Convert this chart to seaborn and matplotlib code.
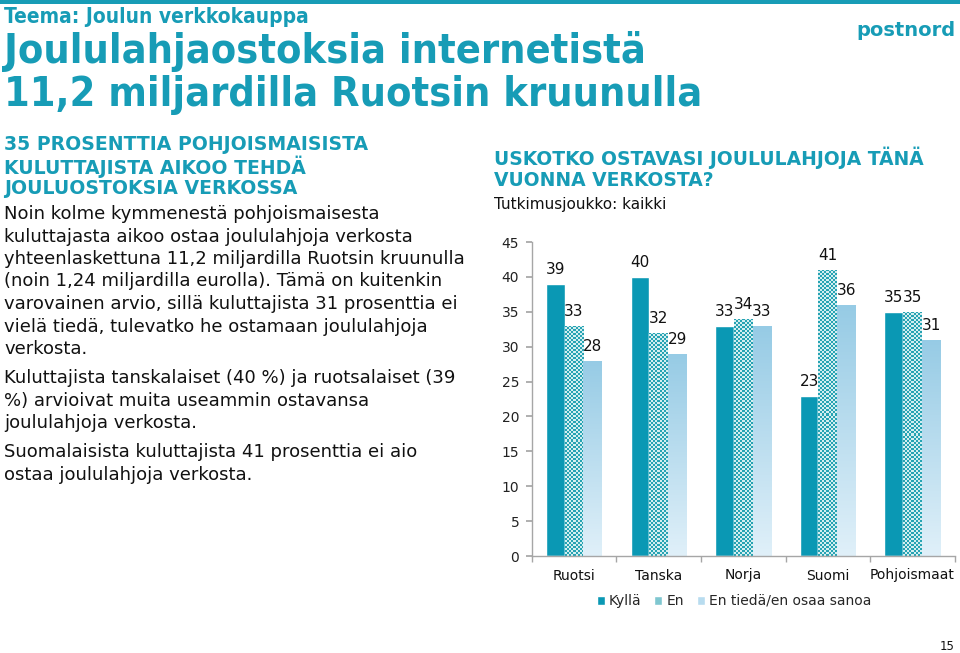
import numpy as np
import pandas as pd
import matplotlib
matplotlib.use("Agg")
import matplotlib.pyplot as plt
from matplotlib.colors import LinearSegmentedColormap, ListedColormap
from matplotlib.patches import Patch
import seaborn as sns

categories = ["Ruotsi", "Tanska", "Norja", "Suomi", "Pohjoismaat"]
series_names = ["Kyllä", "En", "En tiedä/en osaa sanoa"]
kylla = [39, 40, 33, 23, 35]
en = [33, 32, 34, 41, 35]
en_tieda = [28, 29, 33, 36, 31]
y_ticks = [0, 5, 10, 15, 20, 25, 30, 35, 40, 45]

TEAL = "#179cb6"
C_KYLLA = "#0a98b4"
C_EN_DARK = "#27a3b3"
C_EN_LIGHT = "#d4eef0"
C_EN_AVG = "#7fc7d0"
C_T_TOP = "#96cbe5"
C_T_BOT = "#e0f0f9"
C_T_LEG = "#b8dcef"

rows = []
for name, vals in zip(series_names, [kylla, en, en_tieda]):
    for c, v in zip(categories, vals):
        rows.append({"Maa": c, "Vastaus": name, "Osuus": v})
df = pd.DataFrame(rows)

sns.set_theme(style="white")
plt.rcParams["font.family"] = ["DejaVu Sans"]

W, H = 960, 653
fig = plt.figure(figsize=(W / 100, H / 100), dpi=100)

def px(x, y):
    return x / W, 1 - y / H

# top band
fig.add_artist(plt.Rectangle((0, 1 - 4 / H), 1, 4 / H, transform=fig.transFigure,
                             color=TEAL, lw=0))

fig.text(*px(4, 17), "Teema: Joulun verkkokauppa", color=TEAL, fontsize=15,
         fontweight="bold", fontstretch="condensed", va="center", ha="left")
fig.text(*px(4, 52), "Joululahjaostoksia internetistä", color=TEAL, fontsize=29.7,
         fontweight="bold", fontstretch="condensed", va="center", ha="left")
fig.text(*px(4, 95), "11,2 miljardilla Ruotsin kruunulla", color=TEAL, fontsize=29.7,
         fontweight="bold", fontstretch="condensed", va="center", ha="left")
fig.text(*px(955, 30), "postnord", color=TEAL, fontsize=14, fontweight="heavy",
         va="center", ha="right")

heading = ["35 PROSENTTIA POHJOISMAISISTA", "KULUTTAJISTA AIKOO TEHDÄ",
           "JOULUOSTOKSIA VERKOSSA"]
for i, t in enumerate(heading):
    fig.text(*px(4, 145 + 22 * i), t, color=TEAL, fontsize=13.6, fontweight="bold",
             va="center", ha="left")

body1 = ["Noin kolme kymmenestä pohjoismaisesta",
         "kuluttajasta aikoo ostaa joululahjoja verkosta",
         "yhteenlaskettuna 11,2 miljardilla Ruotsin kruunulla",
         "(noin 1,24 miljardilla eurolla). Tämä on kuitenkin",
         "varovainen arvio, sillä kuluttajista 31 prosenttia ei",
         "vielä tiedä, tulevatko he ostamaan joululahjoja",
         "verkosta."]
for i, t in enumerate(body1):
    fig.text(*px(4, 214 + 22.5 * i), t, color="#111111", fontsize=13, va="center", ha="left")
body2 = ["Kuluttajista tanskalaiset (40 %) ja ruotsalaiset (39",
         "%) arvioivat muita useammin ostavansa",
         "joululahjoja verkosta."]
for i, t in enumerate(body2):
    fig.text(*px(4, 378 + 22.5 * i), t, color="#111111", fontsize=13, va="center", ha="left")
body3 = ["Suomalaisista kuluttajista 41 prosenttia ei aio",
         "ostaa joululahjoja verkosta."]
for i, t in enumerate(body3):
    fig.text(*px(4, 452 + 22.5 * i), t, color="#111111", fontsize=13, va="center", ha="left")

fig.text(*px(494, 158), "USKOTKO OSTAVASI JOULULAHJOJA TÄNÄ", color=TEAL, fontsize=13.5,
         fontweight="bold", va="center", ha="left")
fig.text(*px(494, 181), "VUONNA VERKOSTA?", color=TEAL, fontsize=13.5,
         fontweight="bold", va="center", ha="left")
fig.text(*px(494, 204), "Tutkimusjoukko: kaikki", color="#111111", fontsize=11,
         va="center", ha="left")
fig.text(*px(955, 647), "15", color="#111111", fontsize=8.5, va="center", ha="right")

# axes
x0, x1 = 531.7, 954.7
yb, yt = 556, 242
ax = fig.add_axes([x0 / W, 1 - yb / H, (x1 - x0) / W, (yb - yt) / H])
sns.barplot(data=df, x="Maa", y="Osuus", hue="Vastaus", order=categories,
            hue_order=series_names, palette=[C_KYLLA, C_EN_AVG, C_T_TOP],
            width=0.66, gap=0, saturation=1, ax=ax, legend=False)
ax.set_ylim(0, 45)
ax.set_xlim(-0.5, len(categories) - 0.5)
ax.set_yticks(y_ticks)
ax.set_yticklabels([str(v) for v in y_ticks])
ax.set_xlabel("")
ax.set_ylabel("")
for s in ["top", "right"]:
    ax.spines[s].set_visible(False)
for s in ["left", "bottom"]:
    ax.spines[s].set_color("#a6a6a6")
    ax.spines[s].set_linewidth(1)
ax.tick_params(axis="y", which="major", left=True, length=4, color="#a6a6a6",
               labelsize=10, labelcolor="#222222", pad=5)
ax.tick_params(axis="x", which="major", bottom=False, labelsize=10,
               labelcolor="#111111", pad=3)
ax.set_xticks(np.arange(-0.5, len(categories)), minor=True)
ax.tick_params(axis="x", which="minor", bottom=True, length=4, color="#a6a6a6")

fig.canvas.draw()
# textures
en_cmap = ListedColormap([C_EN_DARK, C_EN_LIGHT])
grad_cmap = LinearSegmentedColormap.from_list("g", [C_T_BOT, C_T_TOP])
for i, cont in enumerate(ax.containers):
    for p in cont.patches:
        bx, by, bw, bh = p.get_x(), p.get_y(), p.get_width(), p.get_height()
        if i == 1:
            (dx0, dy0), (dx1, dy1) = ax.transData.transform([(bx, by), (bx + bw, by + bh)])
            nx = max(int(round((dx1 - dx0) / 2.0)), 1)
            ny = max(int(round((dy1 - dy0) / 2.0)), 1)
            jj, ii = np.meshgrid(np.arange(nx), np.arange(ny))
            tex = (ii + jj) % 2
            im = ax.imshow(tex, cmap=en_cmap, extent=(bx, bx + bw, by, by + bh),
                           aspect="auto", interpolation="nearest", zorder=p.get_zorder() + 0.1)
            im.set_clip_path(p)
        elif i == 2:
            g = np.linspace(0, 1, 256).reshape(-1, 1)
            im = ax.imshow(g, cmap=grad_cmap, origin="lower",
                           extent=(bx, bx + bw, by, by + bh), aspect="auto",
                           interpolation="bilinear", zorder=p.get_zorder() + 0.1)
            im.set_clip_path(p)
    ax.bar_label(cont, labels=[str(int(v)) for v in cont.datavalues], padding=5,
                 fontsize=11, color="#111111")
ax.set_xlim(-0.5, len(categories) - 0.5)
ax.set_ylim(0, 45)

# legend
handles = [Patch(facecolor=C_KYLLA), Patch(facecolor=C_EN_AVG), Patch(facecolor=C_T_LEG)]
fig.legend(handles, series_names, loc="center", bbox_to_anchor=px(734, 601),
           ncol=3, frameon=False, fontsize=10, handlelength=0.6, handleheight=0.6,
           handletextpad=0.3, columnspacing=0.9)

fig.savefig("out.png", dpi=100)
